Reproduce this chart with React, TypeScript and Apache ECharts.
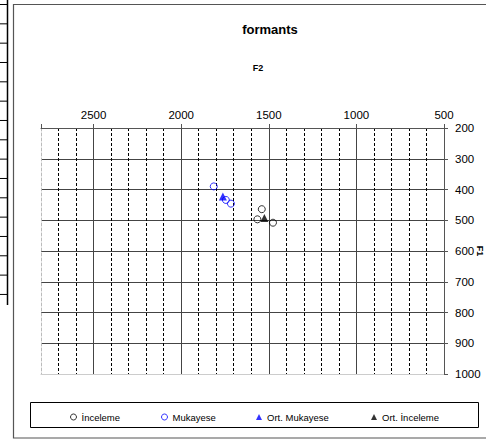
import React, { useEffect, useRef } from "react";
import * as echarts from "echarts";

const FONT = "'Liberation Sans', Arial, sans-serif";

const seriesNames = ["İnceleme", "Mukayese", "Ort. Mukayese", "Ort. İnceleme"];
const inceleme: number[][] = [
  [1540, 464],
  [1565, 497],
  [1476, 508],
];
const mukayese: number[][] = [
  [1814, 390],
  [1745, 434],
  [1716, 446],
];
const ortMukayese: number[][] = [[1762, 423]];
const ortInceleme: number[][] = [[1525, 493]];

const f2Min = 500;
const f2Max = 2800;
const f1Min = 200;
const f1Max = 1000;

export default function App() {
  const ref = useRef<HTMLDivElement>(null);
  useEffect(() => {
    if (!ref.current) return;
    const chart = echarts.init(ref.current, null, { renderer: "svg" });

    const tableLines: any[] = [];
    for (let k = 0; k < 16; k++) {
      const y = 4.5 + k * 19.33;
      tableLines.push({
        type: "line",
        shape: { x1: 0, y1: y, x2: 7.5, y2: y },
        style: { stroke: "#000", lineWidth: 1 },
      });
    }
    tableLines.push({
      type: "line",
      shape: { x1: 7.5, y1: 0, x2: 7.5, y2: 305 },
      style: { stroke: "#000", lineWidth: 1.5 },
    });

    const legendBase = {
      top: 412,
      padding: 0,
      itemWidth: 6,
      itemHeight: 6,
      itemStyle: { borderWidth: 1 },
      textStyle: { fontSize: 9.5, fontFamily: FONT, color: "#000" },
    };

    chart.setOption({
      animation: false,
      backgroundColor: "#fff",
      grid: { left: 41, top: 128, right: 42, bottom: 65 },
      xAxis: [
        {
          type: "value",
          position: "top",
          inverse: true,
          min: f2Min,
          max: f2Max,
          interval: 100,
          axisLine: { show: false },
          axisTick: { show: false },
          axisLabel: { show: false },
          splitLine: {
            show: true,
            showMinLine: false,
            showMaxLine: false,
            lineStyle: { color: "#000", width: 1, type: [3, 2] },
          },
        },
        {
          type: "value",
          position: "top",
          inverse: true,
          min: f2Min,
          max: f2Max,
          interval: 500,
          axisLine: { show: true, lineStyle: { color: "#555", width: 1 } },
          axisTick: { show: true, length: 4, lineStyle: { color: "#555" } },
          axisLabel: {
            show: true,
            margin: 7,
            fontSize: 11.5,
            fontFamily: FONT,
            color: "#000",
            formatter: (v: number) => (v % 500 === 0 ? String(v) : ""),
          },
          splitLine: {
            show: true,
            showMinLine: false,
            showMaxLine: false,
            lineStyle: { color: "#444", width: 1 },
          },
        },
        {
          type: "value",
          position: "bottom",
          inverse: true,
          min: f2Min,
          max: f2Max,
          axisLine: { show: true, lineStyle: { color: "#ccc", width: 1 } },
          axisTick: { show: false },
          axisLabel: { show: false },
          splitLine: { show: false },
        },
      ],
      yAxis: [
        {
          type: "value",
          position: "right",
          inverse: true,
          min: f1Min,
          max: f1Max,
          interval: 100,
          axisLine: { show: true, lineStyle: { color: "#555", width: 1 } },
          axisTick: { show: true, length: 4, lineStyle: { color: "#555" } },
          axisLabel: {
            show: true,
            margin: 11,
            fontSize: 11.5,
            fontFamily: FONT,
            color: "#000",
            formatter: (v: number) => String(v),
          },
          splitLine: {
            show: true,
            showMinLine: false,
            showMaxLine: false,
            lineStyle: { color: "#444", width: 1 },
          },
        },
        {
          type: "value",
          position: "left",
          inverse: true,
          min: f1Min,
          max: f1Max,
          axisLine: { show: true, lineStyle: { color: "#bbb", width: 1, type: [3, 2] } },
          axisTick: { show: false },
          axisLabel: { show: false },
          splitLine: { show: false },
        },
      ],
      legend: [
        { ...legendBase, left: 70, data: [seriesNames[0]] },
        { ...legendBase, left: 161, data: [seriesNames[1]] },
        { ...legendBase, left: 256, data: [seriesNames[2]] },
        { ...legendBase, left: 371, data: [seriesNames[3]] },
      ],
      series: [
        {
          name: seriesNames[0],
          type: "scatter",
          xAxisIndex: 1,
          yAxisIndex: 0,
          symbol: "circle",
          symbolSize: 7,
          itemStyle: { color: "rgba(255,255,255,0)", borderColor: "#000", borderWidth: 1 },
          data: inceleme,
          z: 3,
        },
        {
          name: seriesNames[1],
          type: "scatter",
          xAxisIndex: 1,
          yAxisIndex: 0,
          symbol: "circle",
          symbolSize: 7,
          itemStyle: { color: "rgba(255,255,255,0)", borderColor: "#0000ff", borderWidth: 1 },
          data: mukayese,
          z: 3,
        },
        {
          name: seriesNames[2],
          type: "scatter",
          xAxisIndex: 1,
          yAxisIndex: 0,
          symbol: "triangle",
          symbolSize: 8,
          itemStyle: { color: "#0000ff" },
          data: ortMukayese,
          z: 4,
        },
        {
          name: seriesNames[3],
          type: "scatter",
          xAxisIndex: 1,
          yAxisIndex: 0,
          symbol: "triangle",
          symbolSize: 8,
          itemStyle: { color: "#000" },
          data: ortInceleme,
          z: 4,
        },
      ],
      graphic: [
        ...tableLines,
        {
          type: "rect",
          shape: { x: 13.5, y: 4.5, width: 480, height: 433.5 },
          style: { fill: "none", stroke: "#555", lineWidth: 1.2 },
          silent: true,
        },
        {
          type: "rect",
          shape: { x: 30.5, y: 402.5, width: 448, height: 25 },
          style: { fill: "none", stroke: "#000", lineWidth: 1 },
          silent: true,
        },
        {
          type: "text",
          x: 270,
          y: 29,
          style: {
            text: "formants",
            font: `bold 13px ${FONT}`,
            fill: "#000",
            textAlign: "center",
            textVerticalAlign: "middle",
          },
        },
        {
          type: "text",
          x: 258,
          y: 68,
          style: {
            text: "F2",
            font: `bold 9px ${FONT}`,
            fill: "#000",
            textAlign: "center",
            textVerticalAlign: "middle",
          },
        },
        {
          type: "text",
          x: 480,
          y: 251,
          rotation: -Math.PI / 2,
          style: {
            text: "F1",
            font: `bold 9px ${FONT}`,
            fill: "#000",
            textAlign: "center",
            textVerticalAlign: "middle",
          },
        },
      ],
    });
    return () => chart.dispose();
  }, []);
  return (
    <div
      ref={ref}
      style={{ position: "absolute", left: 0, top: 0, width: 486, height: 439 }}
    />
  );
}
